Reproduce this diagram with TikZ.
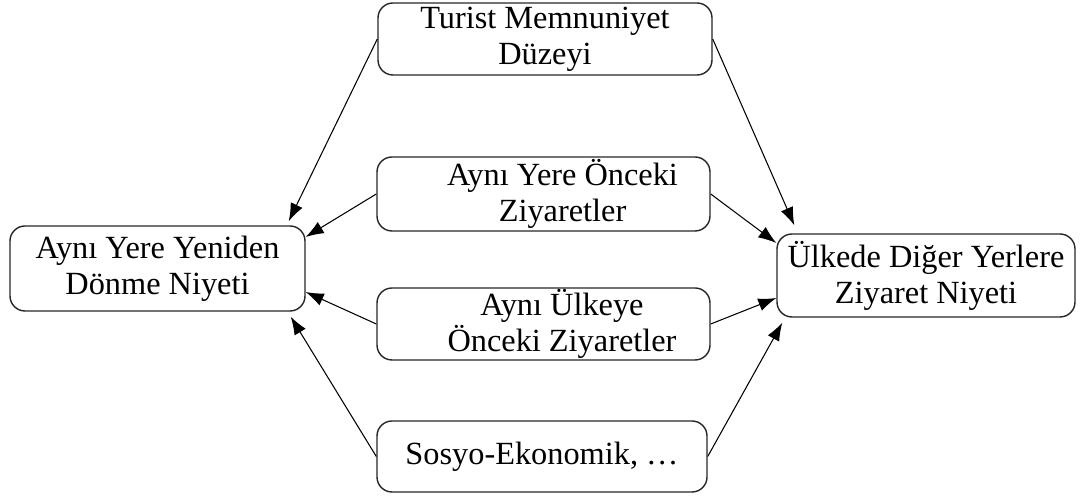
\documentclass[tikz,border=0pt]{standalone}
\usepackage{fontspec}
\setmainfont{Liberation Serif}
\usetikzlibrary{arrows.meta}
\tikzset{
  box/.style={draw=black!85, line width=0.8pt, rounded corners=0.3cm, align=center,
    font=\fontsize{18.4}{20.5}\selectfont, inner sep=0pt},
}
\begin{document}
\begin{tikzpicture}[>={Latex[length=3.6mm,width=2.6mm]}, line width=0.6pt]
\useasboundingbox (0,0) rectangle (21.82,10);
% boxes in the middle column
\node[box, minimum width=6.68cm, minimum height=1.44cm] (mem) at (10.90,9.22) {Turist Memnuniyet\\Düzeyi};
\node[box, minimum width=6.66cm, minimum height=1.48cm] (yer) at (10.87,6.12) {\hspace*{0.76cm}Aynı Yere Önceki\\\hspace*{0.76cm}Ziyaretler};
\node[box, minimum width=6.66cm, minimum height=1.44cm] (ulk) at (10.87,3.52) {\hspace*{0.74cm}Aynı Ülkeye\\\hspace*{0.74cm}Önceki Ziyaretler};
\node[box, minimum width=6.60cm, minimum height=1.42cm] (sos) at (10.84,0.87) {Sosyo-Ekonomik, …};
% outcome boxes
\node[box, minimum width=5.90cm, minimum height=1.70cm] (lft) at (3.15,4.63) {Aynı Yere Yeniden\\Dönme Niyeti};
\node[box, minimum width=5.96cm, minimum height=1.66cm] (rgt) at (18.52,4.49) {Ülkede Diğer Yerlere\\Ziyaret Niyeti};
% arrows to the left
\draw[->] (mem.west) -- ([shift={(-0.34,0.08)}]lft.north east);
\draw[->] (yer.west) -- ([yshift=0.63cm]lft.east);
\draw[->] (ulk.west) -- ([yshift=-0.47cm]lft.east);
\draw[->] (sos.west) -- ([shift={(-0.3,-0.1)}]lft.south east);
% arrows to the right
\draw[->] (mem.east) -- ([shift={(0.36,0.16)}]rgt.north west);
\draw[->] (yer.east) -- ([yshift=0.65cm]rgt.west);
\draw[->] (ulk.east) -- ([yshift=-0.45cm]rgt.west);
\draw[->] (sos.east) -- ([shift={(0.12,-0.1)}]rgt.south west);
\end{tikzpicture}
\end{document}
